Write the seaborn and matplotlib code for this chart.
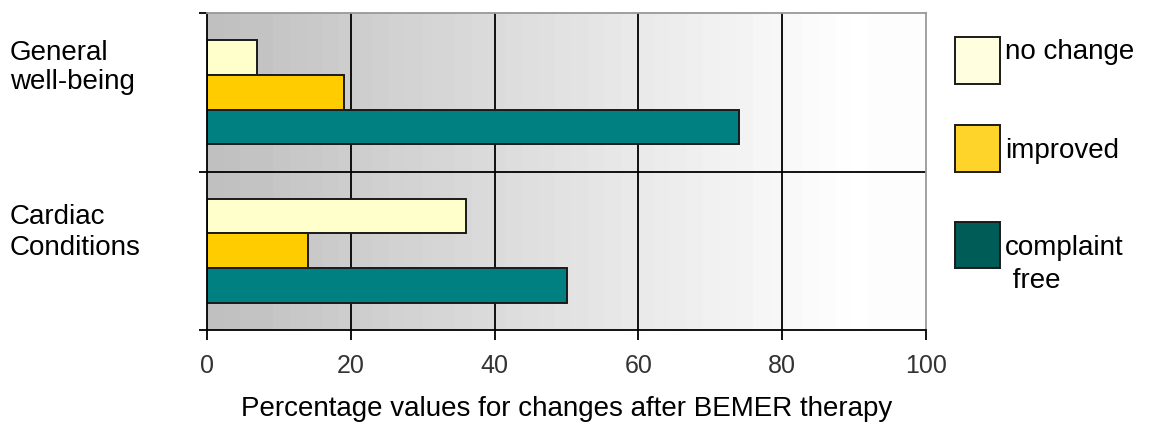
import numpy as np
import pandas as pd
import matplotlib
matplotlib.use("Agg")
import matplotlib.pyplot as plt
from matplotlib.patches import Rectangle
import seaborn as sns

# ---- data ----
categories = ["General\nwell-being", "Cardiac\nConditions"]
statuses = ["no change", "improved", "complaint free"]
no_change = [7, 36]
improved = [19, 14]
complaint_free = [74, 50]
x_ticks = [0, 20, 40, 60, 80, 100]
x_label = "Percentage values for changes after BEMER therapy"
legend_labels = ["no change", "improved", "complaint\n free"]

bar_colors = ["#FFFFCC", "#FFCC00", "#008080"]
legend_colors = ["#FFFFE0", "#FFD42A", "#005C57"]

rows = []
for i, cat in enumerate(categories):
    for st, vals in zip(statuses, [no_change, improved, complaint_free]):
        rows.append({"category": cat, "status": st, "value": vals[i]})
df = pd.DataFrame(rows)

sns.set_style("white")
plt.rcParams["font.family"] = ["Liberation Sans", "DejaVu Sans"]
plt.rcParams["text.color"] = "black"
plt.rcParams["axes.labelcolor"] = "black"

W, H = 1149, 426
fig = plt.figure(figsize=(W / 100, H / 100), dpi=100)
ax = fig.add_axes([207 / W, 1 - 330 / H, (926 - 207) / W, (330 - 13) / H])

# background gradient
n_steps = 40
grad = np.linspace(0.75, 1.0, n_steps).reshape(1, -1)
ax.imshow(grad, cmap="gray", vmin=0, vmax=1, aspect="auto",
          extent=[0, 92, 1.5, -0.5], zorder=0, interpolation="nearest")
ax.add_patch(Rectangle((92, -0.5), 8, 2, facecolor="#fdfdfd", edgecolor="none", zorder=0))

sns.barplot(data=df, y="category", x="value", hue="status", hue_order=statuses,
            order=categories, orient="h", palette=bar_colors, saturation=1,
            width=0.655, edgecolor="#1a1a1a", linewidth=1.4, legend=False,
            ax=ax, zorder=2)

ax.set_xlim(0, 100)
ax.set_ylim(1.5, -0.5)

# grid
for xv in x_ticks[1:-1]:
    ax.axvline(xv, color="black", lw=1.3, zorder=1)
ax.axhline(0.5, color="black", lw=1.3, zorder=1)

ax.set_xticks(x_ticks)
ax.set_xticklabels([str(v) for v in x_ticks], fontsize=18, color="#333333")
ax.set_yticks([-0.5, 0.5, 1.5])
ax.set_yticklabels([])
ax.tick_params(axis="x", direction="out", length=7, width=1.3, color="black", pad=10, bottom=True)
ax.tick_params(axis="y", direction="out", length=6, width=1.3, color="black", left=True)
ax.set_ylabel("")
ax.set_xlabel(x_label, fontsize=20, labelpad=13, color="black")

for side in ["left", "bottom"]:
    ax.spines[side].set_color("black")
    ax.spines[side].set_linewidth(1.3)
for side in ["top", "right"]:
    ax.spines[side].set_color("#999999")
    ax.spines[side].set_linewidth(1.3)
for s in ax.spines.values():
    s.set_zorder(3)

# category labels (left-aligned at left of figure)
cat_baselines = [(60, 89), (224, 255)]
for cat, (b1, b2) in zip(categories, cat_baselines):
    l1, l2 = cat.split("\n")
    fig.text(10 / W, 1 - b1 / H, l1, fontsize=20, ha="left", va="baseline")
    fig.text(10 / W, 1 - b2 / H, l2, fontsize=20, ha="left", va="baseline")

# legend
patch_boxes = [(955, 37, 1000, 84), (955, 125, 1000, 172), (955, 222, 1000, 268)]
for (x0, y0, x1, y1), col in zip(patch_boxes, legend_colors):
    fig.add_artist(Rectangle((x0 / W, 1 - y1 / H), (x1 - x0) / W, (y1 - y0) / H,
                             transform=fig.transFigure, facecolor=col,
                             edgecolor="#1a1a1a", linewidth=1.4))
legend_baselines = [59, 158, 255, 288]
legend_lines = [l for lab in legend_labels for l in lab.split("\n")]
for line, b in zip(legend_lines, legend_baselines):
    fig.text(1005 / W, 1 - b / H, line, fontsize=20, ha="left", va="baseline")

fig.savefig("out.png", dpi=100)
